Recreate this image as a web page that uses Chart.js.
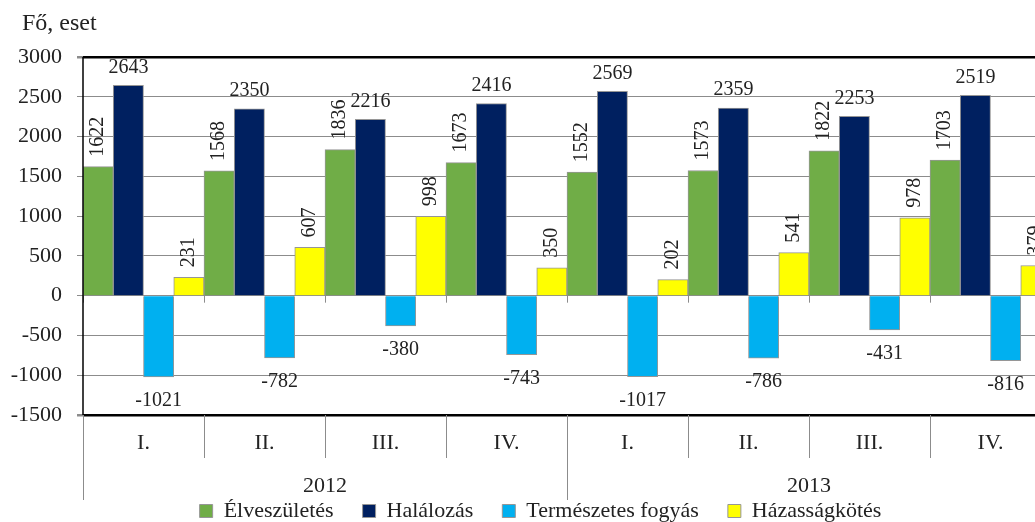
<!DOCTYPE html>
<html>
<head>
<meta charset="utf-8">
<script src="https://cdn.jsdelivr.net/npm/chart.js@4/dist/chart.umd.min.js"></script>
<style>
  html, body { margin: 0; padding: 0; background: #fff; overflow: hidden; }
  #wrap { width: 1060px; height: 522px; }
</style>
</head>
<body>
<div id="wrap"><canvas id="popChart"></canvas></div>
<script>
// quarters and years
var quarters = ['I.', 'II.', 'III.', 'IV.', 'I.', 'II.', 'III.', 'IV.'];
var years = ['2012', '2013'];

// series values
var births = [1622, 1568, 1836, 1673, 1552, 1573, 1822, 1703];
var deaths = [2643, 2350, 2216, 2416, 2569, 2359, 2253, 2519];
var naturalDecrease = [-1021, -782, -380, -743, -1017, -786, -431, -816];
var marriages = [231, 607, 998, 350, 202, 541, 978, 379];

var yTicks = [-1500, -1000, -500, 0, 500, 1000, 1500, 2000, 2500, 3000];

var FONT = '"Liberation Serif", "Times New Roman", serif';

// value labels on the bars (rotated for green and yellow)
var valueLabels = {
    id: 'valueLabels',
    afterDatasetsDraw: function(chart) {
        var ctx = chart.ctx;
        ctx.save();
        ctx.fillStyle = '#222';
        ctx.font = '20px ' + FONT;
        chart.data.datasets.forEach(function(ds, di) {
            var meta = chart.getDatasetMeta(di);
            meta.data.forEach(function(bar, i) {
                var txt = String(ds.data[i]);
                if (di === 0 || di === 3) {
                    ctx.save();
                    ctx.translate(bar.x, bar.y - 10);
                    ctx.rotate(-Math.PI / 2);
                    ctx.textAlign = 'left';
                    ctx.textBaseline = 'middle';
                    ctx.fillText(txt, 0, 0);
                    ctx.restore();
                } else if (di === 1) {
                    ctx.textAlign = 'center';
                    ctx.textBaseline = 'bottom';
                    ctx.fillText(txt, bar.x, bar.y - 8);
                } else {
                    ctx.textAlign = 'center';
                    ctx.textBaseline = 'middle';
                    ctx.fillText(txt, bar.x, bar.y + 24);
                }
            });
        });
        ctx.restore();
    }
};

// axis title, zero-line ticks, category separators and year row
var axisExtras = {
    id: 'axisExtras',
    afterLayout: function(chart) {
        // nudge the legend a little to the right
        if (chart.legend) {
            chart.legend.left += 15;
            chart.legend.right += 15;
        }
    },
    afterDraw: function(chart) {
        var ctx = chart.ctx;
        var x = chart.scales.x, y = chart.scales.y;
        var area = chart.chartArea;
        var n = quarters.length;
        var step = (area.right - area.left) / n;
        var zero = y.getPixelForValue(0);
        ctx.save();
        ctx.fillStyle = '#222';
        ctx.font = '24px ' + FONT;
        ctx.textAlign = 'left';
        ctx.textBaseline = 'middle';
        ctx.fillText('Fő, eset', 22, 24);

        ctx.strokeStyle = '#8c8c8c';
        ctx.lineWidth = 1;
        for (var i = 0; i <= n; i++) {
            var px = Math.round(area.left + i * step) + 0.5;
            // small ticks below the zero line
            ctx.beginPath();
            ctx.moveTo(px, zero);
            ctx.lineTo(px, zero + 7);
            ctx.stroke();
            // separators under the plot
            var isYear = (i % 4 === 0);
            ctx.beginPath();
            ctx.moveTo(px, area.bottom);
            ctx.lineTo(px, area.bottom + (isYear ? 85 : 43));
            ctx.stroke();
        }

        ctx.font = '22px ' + FONT;
        ctx.textAlign = 'center';
        years.forEach(function(yr, k) {
            var cx = (x.getPixelForValue(k * 4) + x.getPixelForValue(k * 4 + 3)) / 2;
            ctx.fillText(yr, cx, area.bottom + 71);
        });

        // left frame line
        ctx.strokeStyle = '#000';
        ctx.lineWidth = 1.5;
        ctx.beginPath();
        ctx.moveTo(area.left, area.top);
        ctx.lineTo(area.left, area.bottom);
        ctx.stroke();
        ctx.restore();
    }
};

var ctx = document.getElementById('popChart').getContext('2d');
var popChart = new Chart(ctx, {
    type: 'bar',
    data: {
        labels: quarters,
        datasets: [{
            label: 'Élveszületés',
            data: births,
            backgroundColor: '#70ad47',
            borderColor: '#969696',
            borderWidth: 1
        }, {
            label: 'Halálozás',
            data: deaths,
            backgroundColor: '#002060',
            borderColor: '#969696',
            borderWidth: 1
        }, {
            label: 'Természetes fogyás',
            data: naturalDecrease,
            backgroundColor: '#00b0f0',
            borderColor: '#969696',
            borderWidth: 1
        }, {
            label: 'Házasságkötés',
            data: marriages,
            backgroundColor: '#ffff00',
            borderColor: '#969696',
            borderWidth: 1
        }]
    },
    options: {
        responsive: true,
        maintainAspectRatio: false,
        animation: false,
        layout: { padding: { left: 0, right: 9, top: 57, bottom: -10 } },
        datasets: { bar: { categoryPercentage: 1, barPercentage: 1 } },
        plugins: {
            tooltip: { enabled: false },
            legend: {
                position: 'bottom',
                labels: {
                    font: { family: FONT, size: 22 },
                    color: '#222',
                    boxWidth: 13,
                    boxHeight: 13,
                    padding: 29
                }
            }
        },
        scales: {
            x: {
                grid: { display: false, drawTicks: false },
                border: { display: false },
                ticks: {
                    font: { family: FONT, size: 22 },
                    color: '#222',
                    padding: 15,
                    maxRotation: 0,
                    autoSkip: false
                },
                afterFit: function(scale) { scale.height = 56; }
            },
            y: {
                min: -1500,
                max: 3000,
                afterBuildTicks: function(scale) {
                    scale.ticks = yTicks.map(function(v) { return { value: v }; });
                },
                afterFit: function(scale) { scale.width = 83; },
                ticks: {
                    font: { family: FONT, size: 22 },
                    color: '#222',
                    padding: 15,
                    callback: function(value) { return String(value); }
                },
                border: { display: false },
                grid: {
                    tickLength: 6,
                    tickColor: '#8c8c8c',
                    color: function(c) {
                        var v = c.tick && c.tick.value;
                        return (v === 3000 || v === -1500) ? '#000' : '#8c8c8c';
                    },
                    lineWidth: function(c) {
                        var v = c.tick && c.tick.value;
                        return (v === 3000 || v === -1500) ? 2.5 : 1;
                    }
                }
            }
        }
    },
    plugins: [valueLabels, axisExtras]
});
</script>
</body>
</html>
